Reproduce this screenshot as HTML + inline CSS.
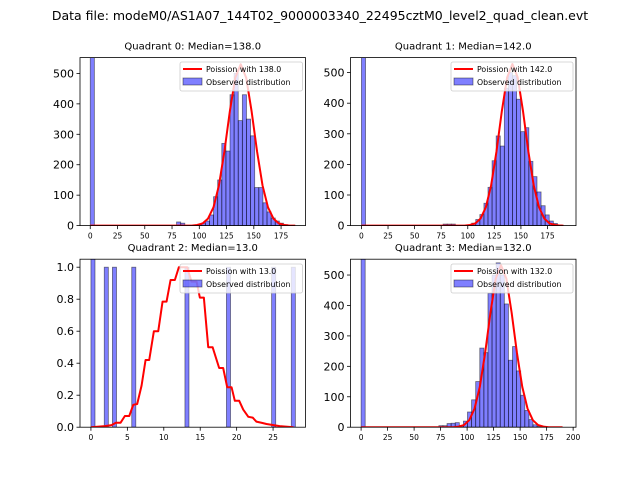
<!DOCTYPE html>
<html><head><meta charset="utf-8">
<style>
html,body{margin:0;padding:0;background:#fff;}
svg{display:block;font-family:"DejaVu Sans","Liberation Sans",sans-serif;}
</style></head>
<body>
<svg id="fig" width="640" height="480" viewBox="0 0 640 480" xmlns="http://www.w3.org/2000/svg">
<rect width="640" height="480" fill="#fff"/>
<text x="320" y="20" text-anchor="middle" font-size="12.5">Data file: modeM0/AS1A07_144T02_9000003340_22495cztM0_level2_quad_clean.evt</text>
</svg>
<script>
// ---- Quadrant 0 data ----
const q0BinWidth = 3.77;
const q0BinIndex = [0,21,22,26,27,28,29,30,31,32,33,34,35,36,37,38,39,40,41,42,43,44,45,46,47];
const q0Counts   = [900,12,8,3,8,15,35,95,150,270,245,430,500,345,430,350,295,125,125,75,45,25,15,8,3];
const q0CurveX = [0,93,98,103,108,113,118,123,128,133,138,143,148,153,158,163,168,173,178,183,188];
const q0CurveY = [0,0,2,7,23,60,132,243,375,486,530,486,375,243,132,60,23,7,2,0,0];
// ---- Quadrant 1 data ----
const q1BinWidth = 3.84;
const q1BinIndex = [0,20,21,22,27,28,29,30,31,32,33,34,35,36,37,38,39,40,41,42,43,44,45,46,47,48];
const q1Counts   = [900,5,5,5,8,20,36,73,125,212,293,260,449,500,490,413,307,320,210,160,110,65,35,15,7,2];
const q1CurveX = [0,97,102,107,112,117,122,127,132,137,142,147,152,157,162,167,172,177,182,187,190];
const q1CurveY = [0,0,2,7,23,60,132,242,373,484,528,484,373,242,132,60,23,7,2,0,0];
// ---- Quadrant 2 data ----
const q2BinWidth = 0.56;
const q2BinLeft = [0,1.83,2.95,5.6,12.9,18.6,24.8,27.5];
const q2Counts  = [2,1,1,1,1,1,1,1];
const q2CurveX = [0,1.92,2.83,3.43,4.07,4.66,5.26,5.81,6.35,6.95,7.5,8,8.64,9.24,9.83,10.38,10.93,11.52,12.07,13.2,13.8,14.5,14.95,15.5,16.1,16.7,17.6,18.15,18.7,19.3,19.75,20.35,20.9,21.6,22.2,22.7,23.4,24.1,25.9,27.8];
const q2CurveY = [0,0.007,0.013,0.028,0.028,0.07,0.07,0.14,0.145,0.26,0.42,0.42,0.6,0.6,0.785,0.785,0.92,0.92,1.0,1.0,0.91,0.91,0.81,0.81,0.5,0.5,0.37,0.37,0.25,0.25,0.165,0.165,0.11,0.065,0.06,0.035,0.028,0.02,0.007,0];
// ---- Quadrant 3 data ----
const q3BinWidth = 3.86;
const q3BinIndex = [0,19,20,21,22,23,24,25,26,27,28,29,30,31,32,33,34,35,36,37,38,39,40,41,42,43];
const q3Counts   = [900,5,5,12,13,15,5,20,50,90,150,260,245,440,500,540,500,405,220,265,185,105,55,25,8,3];
const q3CurveX = [0,87,92,97,102,107,112,117,122,127,132,137,142,147,152,157,162,167,172,177,182,190];
const q3CurveY = [0,0,2,7,23,61,133,244,376,488,532,488,376,244,133,61,23,7,2,0,0,0];

const yTicksCounts = [0,100,200,300,400,500];
const q0XTicks = [0,25,50,75,100,125,150,175];
const q3XTicks = [0,25,50,75,100,125,150,175,200];
const q2XTicks = [0,5,10,15,20,25];
const q2YTicks = [0,0.2,0.4,0.6,0.8,1.0];

const NS = "http://www.w3.org/2000/svg";
const fig = document.getElementById('fig');
function mk(tag, attrs, parent){const e=document.createElementNS(NS,tag);for(const k in attrs)e.setAttribute(k,attrs[k]);(parent||fig).appendChild(e);return e;}

function drawPanel(p){
  const g = mk('g',{});
  
  
  const L=p.box[0],T=p.box[1],R=p.box[2],B=p.box[3];
  const sx=v=>L+(v-p.xlim[0])/(p.xlim[1]-p.xlim[0])*(R-L);
  const sy=v=>B-(v-p.ylim[0])/(p.ylim[1]-p.ylim[0])*(B-T);
  const cid='clip'+p.id;
  const cp=mk('clipPath',{id:cid},g);mk('rect',{x:L,y:T,width:R-L,height:B-T},cp);
  const plot=mk('g',{'clip-path':'url(#'+cid+')'},g);
  for(let i=0;i<p.counts.length;i++){
    const x0=p.lefts[i], x1=x0+p.bw;
    const r=mk('rect',{x:sx(x0),y:sy(p.counts[i]),width:sx(x1)-sx(x0),height:sy(0)-sy(p.counts[i]),fill:'#0000ff','fill-opacity':0.5,stroke:'#000','stroke-opacity':0.5,'stroke-width':0.8},plot);
    
    
  }
  let d='';
  for(let i=0;i<p.cx.length;i++) d+=(i?'L':'M')+sx(p.cx[i]).toFixed(2)+','+sy(p.cy[i]).toFixed(2);
  const ln=mk('path',{d:d,fill:'none',stroke:'#ff0000','stroke-width':2,'stroke-linejoin':'round'},plot);
  
  
  mk('rect',{x:L,y:T,width:R-L,height:B-T,fill:'none',stroke:'#000','stroke-width':0.8},g);
  p.xt.forEach(v=>{const x=sx(v);mk('line',{x1:x,x2:x,y1:B,y2:B+3.5,stroke:'#000','stroke-width':0.8},g);
    const t=mk('text',{x:x,y:B+13,'text-anchor':'middle','font-size':7.5},g);t.textContent=String(v);
    
    });
  p.yt.forEach(v=>{const y=sy(v);mk('line',{x1:L-3.5,x2:L,y1:y,y2:y,stroke:'#000','stroke-width':0.8},g);
    const t=mk('text',{x:L-6,y:y+4,'text-anchor':'end','font-size':11},g);t.textContent=p.yfmt(v);
    
    });
  const tt=mk('text',{x:(L+R)/2,y:T-8,'text-anchor':'middle','font-size':10},g);tt.textContent=p.title;
  
  
  const lg=mk('g',{},g);
  
  
  const lx=p.leg[0], ly=p.leg[1];
  mk('rect',{x:lx,y:ly,width:R-3-lx,height:29,rx:2,fill:'#fff','fill-opacity':0.8,stroke:'#ccc','stroke-width':0.8},lg);
  mk('line',{x1:lx+3,x2:lx+22,y1:ly+7,y2:ly+7,stroke:'#ff0000','stroke-width':2},lg);
  const t1=mk('text',{x:lx+26,y:ly+10,'font-size':7.8},lg);t1.textContent=p.legText;
  mk('rect',{x:lx+3,y:ly+16,width:19,height:7,fill:'#0000ff','fill-opacity':0.5,stroke:'#000','stroke-opacity':0.5,'stroke-width':0.8},lg);
  const t2=mk('text',{x:lx+26,y:ly+23,'font-size':7.8},lg);t2.textContent='Observed distribution';
}
const cnt=v=>String(v);
drawPanel({id:0,name:'quadrant-0-panel',box:[80,57.6,305.5,225.6],xlim:[-9.4,197.4],ylim:[0,552],
  lefts:q0BinIndex.map(k=>k*q0BinWidth),bw:q0BinWidth,counts:q0Counts,cx:q0CurveX,cy:q0CurveY,
  xt:q0XTicks,yt:yTicksCounts,yfmt:cnt,title:'Quadrant 0: Median=138.0',leg:[180,62],legText:'Poission with 138.0'});
drawPanel({id:1,name:'quadrant-1-panel',box:[350.5,57.6,576,225.6],xlim:[-10.3,201.8],ylim:[0,549],
  lefts:q1BinIndex.map(k=>k*q1BinWidth),bw:q1BinWidth,counts:q1Counts,cx:q1CurveX,cy:q1CurveY,
  xt:q0XTicks,yt:yTicksCounts,yfmt:cnt,title:'Quadrant 1: Median=142.0',leg:[451,62],legText:'Poission with 142.0'});
drawPanel({id:2,name:'quadrant-2-panel',box:[80,259.2,305.5,427.2],xlim:[-1.5,29.45],ylim:[0,1.05],
  lefts:q2BinLeft,bw:q2BinWidth,counts:q2Counts,cx:q2CurveX,cy:q2CurveY,
  xt:q2XTicks,yt:q2YTicks,yfmt:v=>v.toFixed(1),title:'Quadrant 2: Median=13.0',leg:[180,264],legText:'Poission with 13.0'});
drawPanel({id:3,name:'quadrant-3-panel',box:[350.5,259.2,576,427.2],xlim:[-10,202.7],ylim:[0,552],
  lefts:q3BinIndex.map(k=>k*q3BinWidth),bw:q3BinWidth,counts:q3Counts,cx:q3CurveX,cy:q3CurveY,
  xt:q3XTicks,yt:yTicksCounts,yfmt:cnt,title:'Quadrant 3: Median=132.0',leg:[451,264],legText:'Poission with 132.0'});
</script>
</body></html>
